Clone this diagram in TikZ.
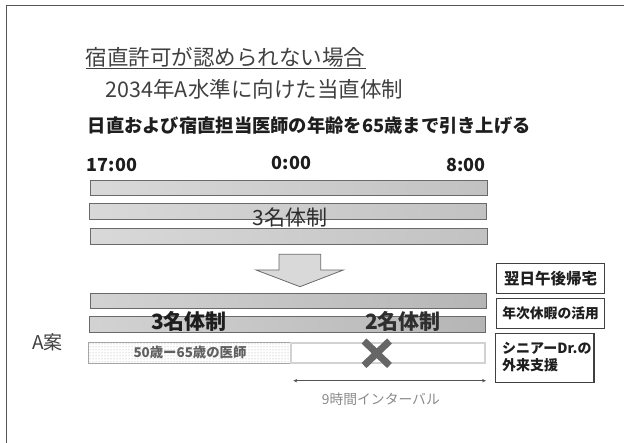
\documentclass[tikz,border=0pt]{standalone}
\usepackage{fontspec}
\setmainfont{Noto Sans CJK JP}
\usetikzlibrary{patterns,arrows.meta}
\definecolor{txtdark}{HTML}{1E1E1E}
\definecolor{txtmid}{HTML}{2E2E2E}
\definecolor{txtlight}{HTML}{404040}
\definecolor{txtgray}{HTML}{8A8A8A}
\definecolor{framecol}{HTML}{555555}
\definecolor{barborder}{HTML}{6A6A6A}
\definecolor{boxborder}{HTML}{404040}
\definecolor{xcol}{HTML}{666666}
\tikzset{
  txt/.style={inner sep=0pt, anchor=west},
  fs/.style={font=\fontsize{#1}{#1}\selectfont},
  fsb/.style={font=\fontsize{#1}{#1}\selectfont\bfseries},
  barbox/.style={draw=barborder, line width=0.8pt, left color=gray!30, right color=gray!48, inner sep=0pt, anchor=north west},
  darkbar/.style={draw=barborder, line width=0.8pt, left color=gray!35, right color=gray!58, inner sep=0pt, anchor=north west},
  sidebox/.style={draw=boxborder, line width=1.2pt, fill=white, inner sep=0pt, anchor=north west, text=txtdark},
}
\begin{document}
\begin{tikzpicture}[x=1pt,y=-1pt]
\useasboundingbox (0,0) rectangle (624,443);
% frame
\draw[framecol, line width=1.3pt] (624,5.5) -- (6.5,5.5) -- (6.5,443);
% titles
\node[txt, fs=21.5, text=txtlight] (title) at (85.6,57) {宿直許可が認められない場合};
\draw[txtlight, line width=0.8pt] ([yshift=-1pt]title.south west) -- ([yshift=-1pt]title.south east);
\node[txt, fs=21.5, text=txtlight] (sub) at (105.5,89) {2034年A水準に向けた当直体制};
\node[txt, fsb=18.3, text=txtdark] (head) at (87.5,126) {日直および宿直担当医師の年齢を65歳まで引き上げる};
% times
\node[txt, fsb=18, text=txtdark] (t17) at (86.7,165) {17:00};
\node[txt, fsb=18, text=txtdark] (t0) at (271.7,162.5) {0:00};
\node[inner sep=0pt, anchor=east, fsb=18, text=txtdark] (t8) at (485.5,165) {8:00};
% top bars
\node[barbox, minimum width=396.5pt, minimum height=15pt] (bar1) at (90,180) {};
\node[barbox, minimum width=396.5pt, minimum height=15.5pt] (bar2) at (89,203.5) {};
\node[barbox, minimum width=396.5pt, minimum height=16pt] (bar3) at (90,228) {};
\node[fs=21, text=txtmid, inner sep=0pt] (three1) at (290,218) {3名体制};
% block arrow
\draw[barborder, fill=gray!30, line width=0.8pt] (279,254.3) -- (320.7,254.3) -- (320.7,270) -- (343.3,270) -- (300,286.7) -- (256,270) -- (279,270) -- cycle;
% lower bars
\node[darkbar, minimum width=396pt, minimum height=15.6pt] (bar4) at (90,292.7) {};
\node[darkbar, minimum width=396pt, minimum height=15.7pt] (bar5) at (89.3,316) {};
\node[txt, fsb=21, text=txtdark] (three2) at (151,321.5) {3名体制};
\node[txt, fsb=21, text=txtmid] (two) at (365,321.5) {2名体制};
% dotted bar and empty bar
\node[draw=gray!70, line width=0.8pt, pattern=dots, pattern color=gray!75, inner sep=0pt, anchor=north west, minimum width=201.7pt, minimum height=21pt] (senior) at (88.3,341.7) {};
\node[txt, fsb=13.4, text=gray!75!black] (seniortxt) at (133.3,352.3) {50歳ー65歳の医師};
\node[draw=gray!35, line width=2pt, inner sep=0pt, anchor=north west, minimum width=194pt, minimum height=19.4pt] (empty) at (290,342.3) {};
% cross
\draw[xcol, line width=7pt] (364,341) -- (389.5,365.5);
\draw[xcol, line width=7pt] (389.5,341) -- (364,365.5);
% A案
\node[txt, fs=19, text=txtlight] (plan) at (32,342) {A案};
% interval arrow
\coordinate (ia) at (293.3,380.7);
\coordinate (ib) at (486,380.7);
\draw[gray!65!black, line width=0.9pt, {Stealth[length=4pt,width=3.5pt]}-{Stealth[length=4pt,width=3.5pt]}] (ia) -- (ib);
\node[txt, fs=13.8, text=txtgray] (interval) at (321.7,399) {9時間インターバル};
% side boxes
\node[sidebox, minimum width=108pt, minimum height=30pt, fsb=15.5] (box1) at (496,262.7) {翌日午後帰宅};
\node[sidebox, minimum width=108pt, minimum height=30.6pt, fsb=13.8] (box2) at (496,297.7) {年次休暇の活用};
\node[sidebox, minimum width=98.3pt, minimum height=48.4pt] (box3) at (495,333.3) {};
\node[txt, fsb=14, text=txtdark] (box3a) at (502,348.3) {シニアーDr.の};
\node[txt, fsb=14, text=txtdark] (box3b) at (502,365.5) {外来支援};
\end{tikzpicture}
\end{document}
